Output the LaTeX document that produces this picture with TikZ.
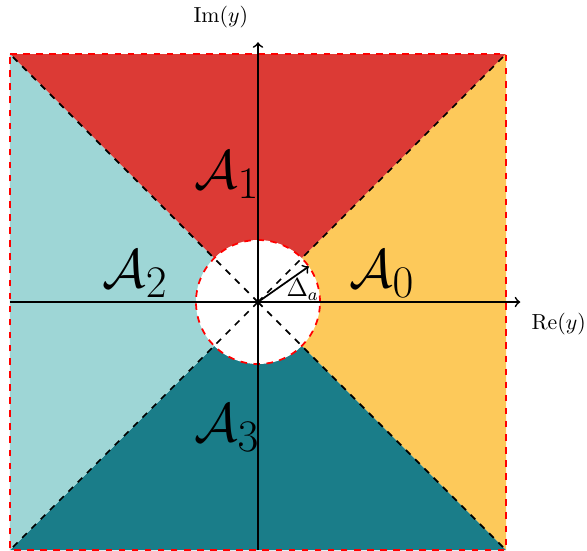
\documentclass[tikz,border=0pt]{standalone}
\usepackage{amsmath}
\definecolor{cred}{HTML}{DC3A35}
\definecolor{cyel}{HTML}{FDC95A}
\definecolor{clt}{HTML}{9ED6D6}
\definecolor{cdt}{HTML}{1A7D89}
\begin{document}
\begin{tikzpicture}[
  bord/.style={red, dashed, thick},
  diag/.style={black, dashed, thick},
  axis/.style={thick, ->},
  big/.style={font=\Huge}
]
\useasboundingbox (-4.161,-4.0) rectangle (5.306,4.871);
\coordinate (O) at (0,0);
\coordinate (NE) at (4,4);
\coordinate (NW) at (-4,4);
\coordinate (SW) at (-4,-4);
\coordinate (SE) at (4,-4);
\fill[cred] (O) -- (NW) -- (NE) -- cycle;
\fill[cyel] (O) -- (NE) -- (SE) -- cycle;
\fill[cdt] (O) -- (SE) -- (SW) -- cycle;
\fill[clt] (O) -- (SW) -- (NW) -- cycle;
\fill[white] (O) circle (1);
\draw[diag] (O) -- (NE);
\draw[diag] (O) -- (NW);
\draw[diag] (O) -- (SW);
\draw[diag] (O) -- (SE);
\draw[bord] (NW) -- (NE) -- (SE) -- (SW) -- cycle;
\draw[bord] (O) circle (1);
\coordinate (xe) at (4.23,0);
\coordinate (ye) at (0,4.19);
\draw[axis] (SW |- O) -- (xe);
\draw[axis] (O |- SW) -- (ye);
\node (re) at (4.85,-0.35) {$\mathrm{Re}(y)$};
\node (im) at (-0.6,4.6) {$\mathrm{Im}(y)$};
\coordinate (dend) at (35:1);
\draw[thick, ->] (O) -- (dend);
\node (da) at (0.72,0.2) {\large $\Delta_a$};
\node[big] (a1) at (-0.5,2.05) {$\mathcal{A}_1$};
\node[big] (a0) at (2.0,0.45) {$\mathcal{A}_0$};
\node[big] (a2) at (-1.98,0.45) {$\mathcal{A}_2$};
\node[big] (a3) at (-0.5,-2.03) {$\mathcal{A}_3$};
\end{tikzpicture}
\end{document}
